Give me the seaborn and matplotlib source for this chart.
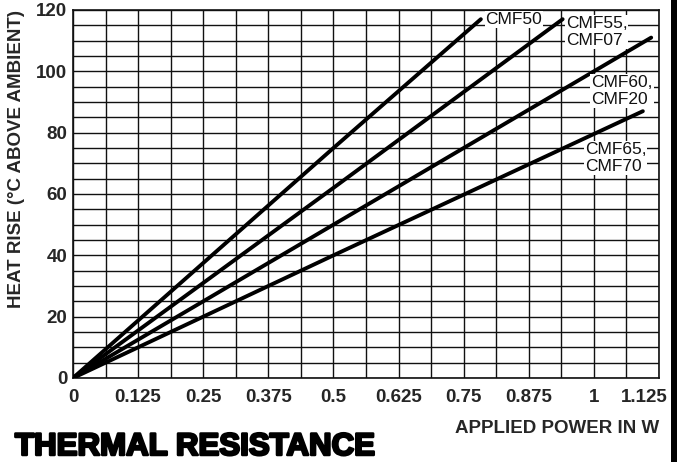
import numpy as np
import pandas as pd
import matplotlib
matplotlib.use("Agg")
import matplotlib.pyplot as plt
import matplotlib.patheffects as pe
import matplotlib.transforms as mtransforms
from matplotlib.patches import Rectangle
import seaborn as sns

# --- 데이터 ---
series_names = ["CMF50", "CMF55", "CMF60", "CMF65"]
cmf50_x = [0, 0.25, 0.5, 0.783]
cmf50_y = [0, 37.5, 75, 117]
cmf55_x = [0, 0.25, 0.5, 0.94]
cmf55_y = [0, 31, 62, 117]
cmf60_x = [0, 0.25, 0.5, 1.11]
cmf60_y = [0, 25, 50, 111]
cmf65_x = [0, 0.25, 0.5, 1.094]
cmf65_y = [0, 20, 40, 87]

label_texts = ["CMF50", "CMF55,\nCMF07", "CMF60,\nCMF20", "CMF65,\nCMF70"]
label_x = [0.792, 0.946, 0.995, 0.983]
label_y = [117, 112.8, 93.6, 71.7]

x_ticks = [0, 0.125, 0.25, 0.375, 0.5, 0.625, 0.75, 0.875, 1, 1.125]
x_tick_labels = ["0", "0.125", "0.25", "0.375", "0.5", "0.625", "0.75", "0.875", "1", "1.125"]
y_ticks = [0, 20, 40, 60, 80, 100, 120]

rows = []
for name, xs, ys in zip(series_names,
                        [cmf50_x, cmf55_x, cmf60_x, cmf65_x],
                        [cmf50_y, cmf55_y, cmf60_y, cmf65_y]):
    for x, y in zip(xs, ys):
        rows.append({"series": name, "power": x, "rise": y})
df = pd.DataFrame(rows)

sns.set_theme(style="white")
plt.rcParams["font.family"] = ["Liberation Sans", "DejaVu Sans"]

fig = plt.figure(figsize=(6.79, 4.62), dpi=100)
ax = fig.add_axes([73 / 679, 1 - 378 / 462, 586 / 679, 368 / 462])

sns.lineplot(data=df, x="power", y="rise", hue="series",
             palette=["black"] * 4, linewidth=2.8, legend=False, ax=ax, zorder=3)

ax.set_xlim(0, 1.125)
ax.set_ylim(0, 120)
ax.set_xticks(x_ticks)
ax.set_xticklabels(x_tick_labels)
ax.set_yticks(y_ticks)
ax.set_xticks(np.arange(0, 1.126, 0.0625), minor=True)
ax.set_yticks(np.arange(0, 121, 5), minor=True)
ax.grid(which="both", color="#111111", linewidth=1.0, zorder=1)
ax.set_axisbelow(True)
ax.tick_params(which="both", length=0)
ax.tick_params(axis="x", pad=8, labelsize=13.5)
ax.tick_params(axis="y", pad=4, labelsize=13.5)
for lab in ax.get_xticklabels() + ax.get_yticklabels():
    lab.set_fontweight("bold")
# 마지막 눈금 라벨은 오른쪽 테두리 안으로 살짝 당김
last = ax.get_xticklabels()[-1]
last.set_transform(last.get_transform() +
                   mtransforms.ScaledTranslation(-0.15, 0, fig.dpi_scale_trans))
for sp in ax.spines.values():
    sp.set_color("#111111")
    sp.set_linewidth(1.2)

for txt, tx, ty in zip(label_texts, label_x, label_y):
    ax.text(tx, ty, txt, fontsize=12.5, ha="left", va="center", linespacing=1.2,
            color="#111111", zorder=4,
            bbox=dict(facecolor="white", edgecolor="none", pad=0.6))

ax.set_xlabel("APPLIED POWER IN W", loc="right", fontsize=13.5,
              fontweight="bold", labelpad=10)
ax.set_ylabel("HEAT RISE (°C ABOVE AMBIENT)", loc="top", fontsize=13.5,
              fontweight="bold", labelpad=8)

fig.text(15 / 679, 1 - 447 / 462, "THERMAL RESISTANCE", fontsize=22.5,
         fontweight="bold", ha="left", va="center", color="black",
         path_effects=[pe.withStroke(linewidth=1.8, foreground="black")])

fig.add_artist(Rectangle((671 / 679, 0), 6 / 679, 1, transform=fig.transFigure,
                         facecolor="black", edgecolor="none"))

fig.savefig("out.png", dpi=100)
